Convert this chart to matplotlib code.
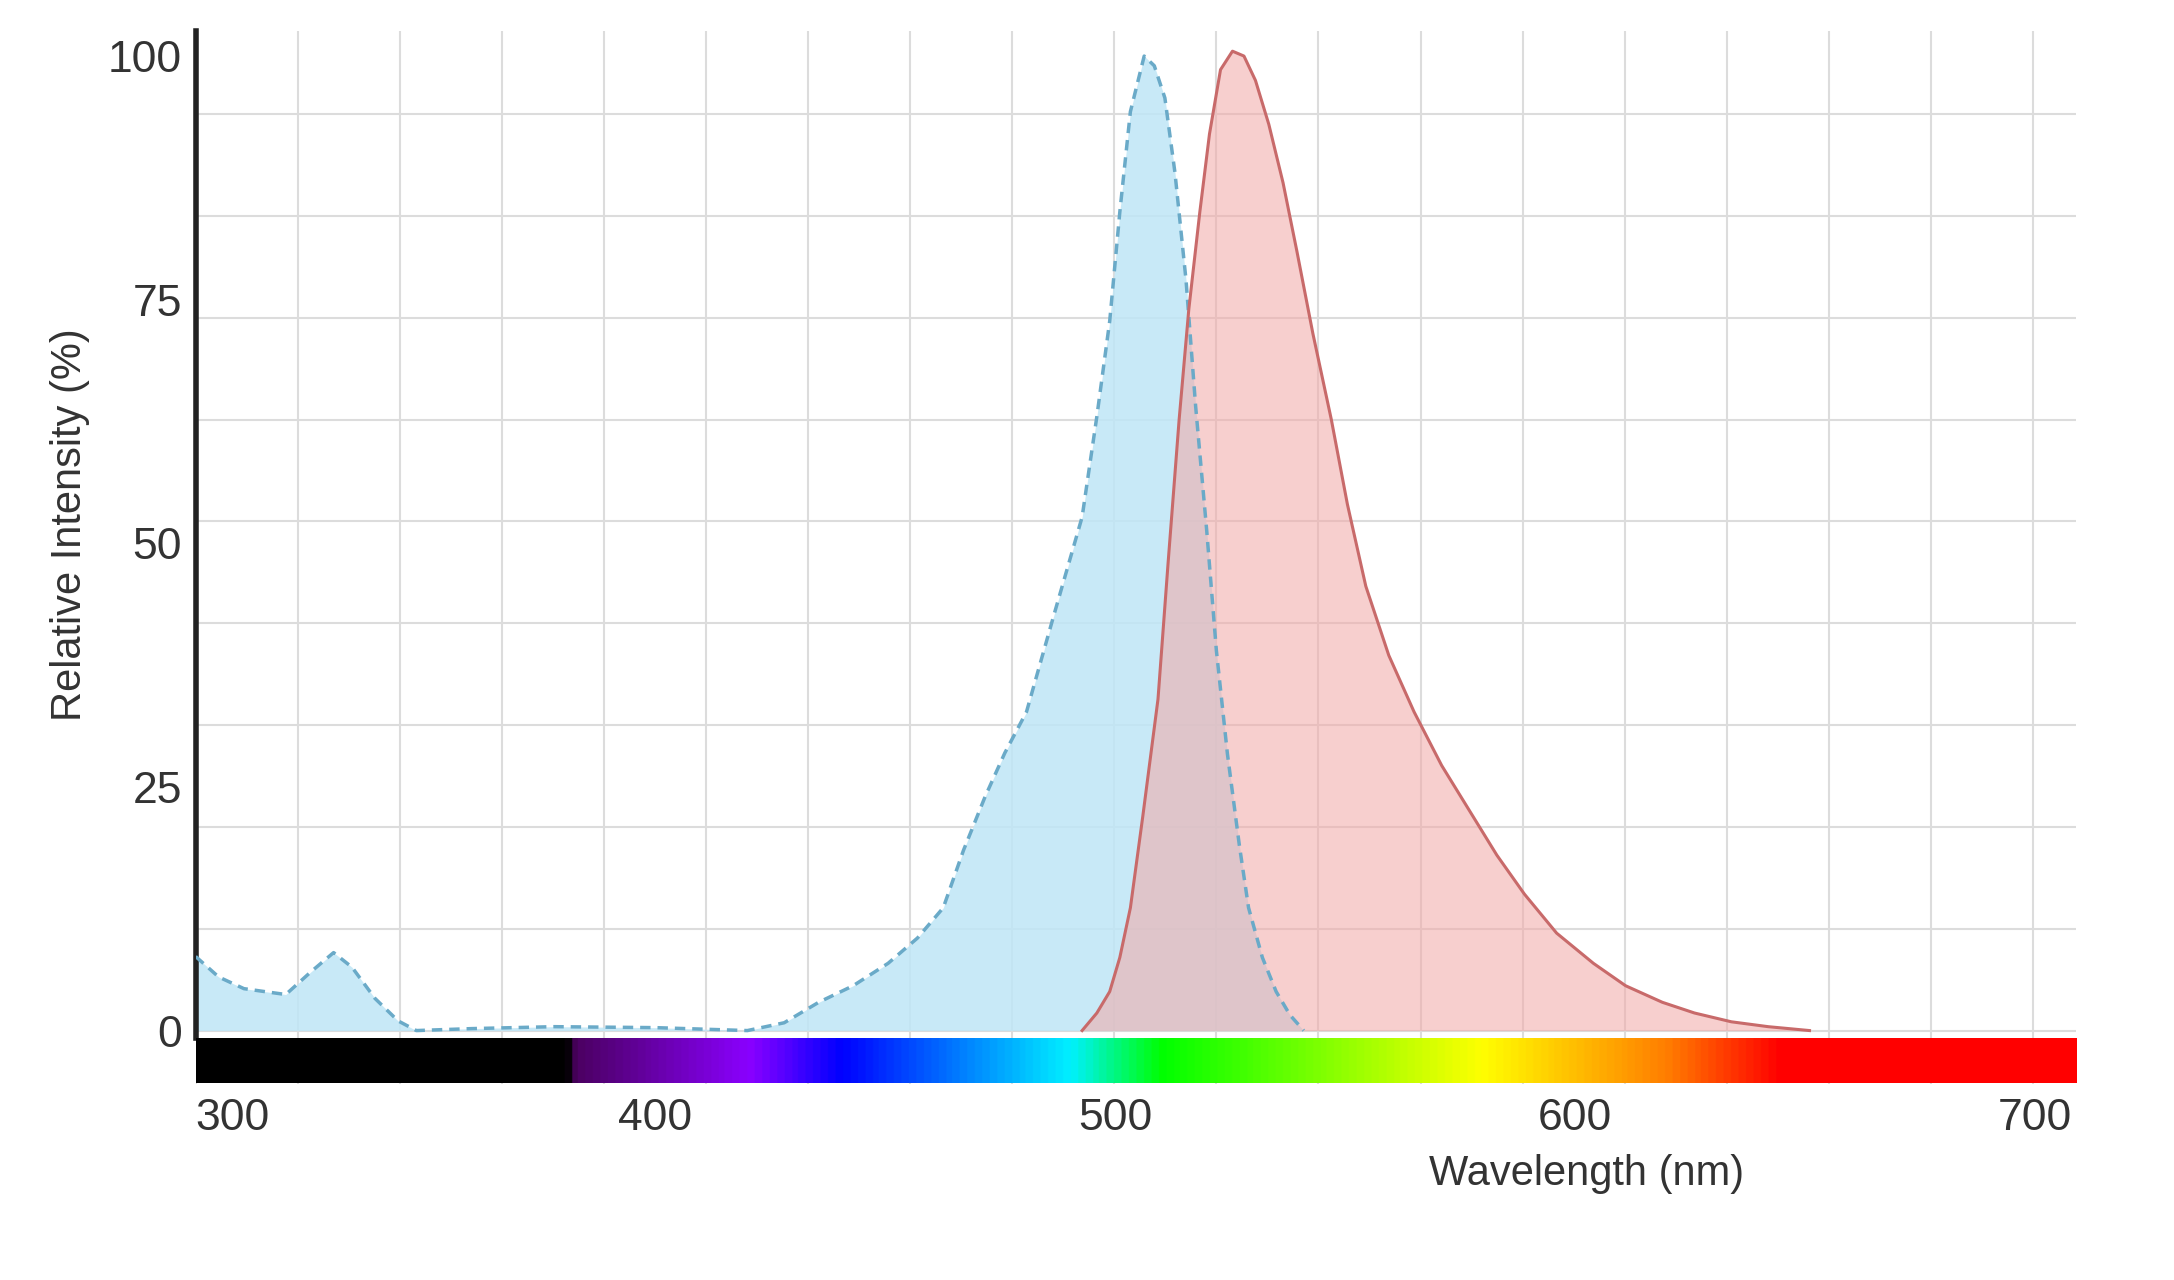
import numpy as np
import matplotlib
matplotlib.use("Agg")
import matplotlib.pyplot as plt
from matplotlib.colors import LinearSegmentedColormap

# Data
ex_wl = [300, 305, 310.5, 315, 319.6, 325, 330, 334, 339, 344, 348, 360, 378, 400, 420, 428,
         435.5, 443, 450.6, 457, 462.6, 467, 471.7, 476, 480.7, 486.7, 492.8, 496, 498.8,
         501, 503.3, 506.3, 508.5, 510.8, 513, 515.4, 517.5, 519.9, 522, 524.4, 527, 529,
         532, 535, 538, 541]
ex_int = [7.6, 5.5, 4.3, 4.0, 3.7, 6.0, 8, 6.5, 3.3, 1.0, 0, 0.2, 0.4, 0.3, 0, 0.8,
          2.9, 4.6, 6.9, 9.5, 12.6, 18.5, 24, 28.5, 32.7, 42.7, 52.7, 63, 72.8,
          84, 94.3, 100, 99, 95.7, 88, 77, 64, 51.3, 39, 28.4, 19, 12.6,
          7.5, 4, 1.6, 0]
em_wl = [492.8, 496, 498.8, 501, 503.3, 506, 509.3, 511.5, 513.9, 516, 518.4, 520.5, 522.9,
         525.5, 528, 530.5, 533.4, 536.5, 539.5, 543, 547, 550.5, 554.5, 559.5,
         565, 571, 577, 583, 589, 596, 604, 611, 619, 626, 634, 642, 651]
em_int = [0, 1.8, 4, 7.5, 12.6, 22, 34, 48, 62.7, 74, 84, 92, 98.6,
          100.5, 100, 97.5, 93, 87, 80, 71.5, 62.7, 54, 45.6, 38.5,
          32.7, 27.2, 22.6, 18, 14, 10, 6.9, 4.6, 2.9, 1.8, 0.9, 0.4, 0]
x_ticks = [300, 400, 500, 600, 700]
y_ticks = [0, 25, 50, 75, 100]

plt.rcParams['font.family'] = ['Liberation Sans', 'DejaVu Sans']
fig = plt.figure(figsize=(21.74, 12.8), dpi=100)
ax = fig.add_axes([0.090, 0.153, 0.865, 0.823])
xmin, xmax, ymin, ymax = 300, 709, -5.5, 102.6
ax.set_xlim(xmin, xmax)
ax.set_ylim(ymin, ymax)

# grid
for gx in np.arange(300, 712, 22.2):
    ax.axvline(gx, color='#dcdcdc', lw=1.5, zorder=0)
for gy in np.arange(0, 103, 10.45):
    ax.axhline(gy, color='#dcdcdc', lw=1.5, zorder=0)

ax.fill_between(ex_wl, ex_int, 0, color='#bfe6f6', alpha=0.85, lw=0, zorder=2)
ax.plot(ex_wl, ex_int, color='#6aaac8', lw=2.5, ls=(0, (3, 2)), zorder=4)
ax.fill_between(em_wl, em_int, 0, color='#f2a8a6', alpha=0.55, lw=0, zorder=3)
ax.plot(em_wl, em_int, color='#c86a6a', lw=2.2, zorder=4)

# spectrum bar
stops = [(0, '#000000'), ((380-300)/409, '#000000'), ((382-300)/409, '#4b0060'),
         ((420-300)/409, '#8a00ff'), ((440-300)/409, '#0000ff'), ((490-300)/409, '#00f0ff'),
         ((510-300)/409, '#00ff00'), ((580-300)/409, '#ffff00'), ((620-300)/409, '#ff7f00'),
         ((645-300)/409, '#ff0000'), (1, '#ff0000')]
cmap = LinearSegmentedColormap.from_list('spec', stops)
grad = np.linspace(0, 1, 1000)[None, :]
ax.imshow(grad, cmap=cmap, aspect='auto', extent=[xmin, xmax, -5.4, -0.8], zorder=5)
ax.set_xlim(xmin, xmax)
ax.set_ylim(ymin, ymax)

for s in ['top', 'right', 'bottom']:
    ax.spines[s].set_visible(False)
ax.spines['left'].set_linewidth(4)
ax.spines['left'].set_color('#222222')
ax.spines['left'].set_bounds(-0.8, ymax)

ax.set_yticks(y_ticks)
ax.set_yticklabels([str(v) for v in y_ticks], fontsize=32, color='#333333')
ax.set_xticks(x_ticks)
ax.set_xticklabels([str(v) for v in x_ticks], fontsize=32, color='#333333')
ax.tick_params(length=0, pad=10)
ax.get_xticklabels()[0].set_ha('left')

fig.text(0.032, 0.59, 'Relative Intensity (%)', rotation=90, fontsize=30,
         color='#333333', ha='center', va='center')
fig.text(0.73, 0.083, 'Wavelength (nm)', fontsize=30, color='#333333',
         ha='center', va='center')

fig.savefig('out.png', dpi=100)
